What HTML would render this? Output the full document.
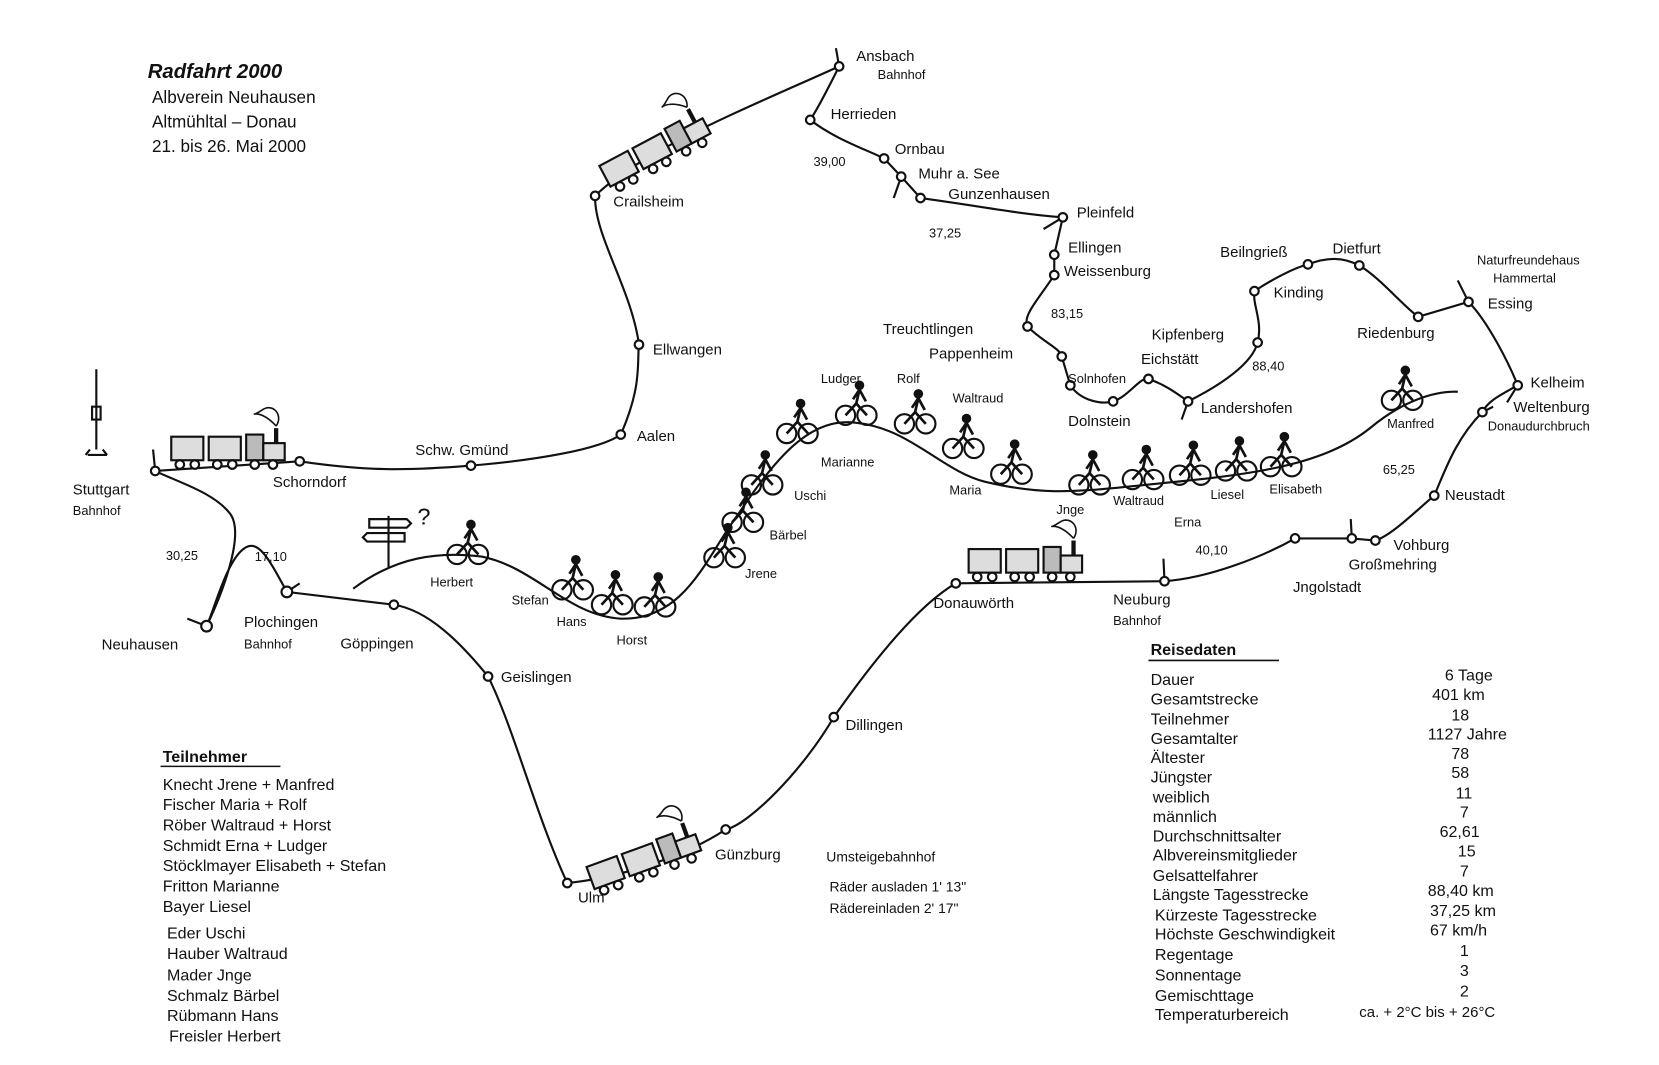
<!DOCTYPE html>
<html><head><meta charset="utf-8"><style>
html,body{margin:0;padding:0;background:#fff;}
svg{display:block;}
text{font-family:"Liberation Sans",sans-serif;fill:#111;}
</style></head><body>
<svg width="1659" height="1065" viewBox="0 0 1550 995" xmlns="http://www.w3.org/2000/svg">
<defs>
<g id="bike">
<circle cx="-10" cy="-9" r="9" fill="none" stroke="#111" stroke-width="2"/>
<circle cx="10" cy="-9" r="9" fill="none" stroke="#111" stroke-width="2"/>
<path d="M-10 -9 L0 -20 L10 -9 M0 -20 L3 -33 M3 -33 L9 -22 M3 -33 L-3 -24" stroke="#111" stroke-width="2.5" fill="none"/>
<circle cx="3" cy="-37" r="4.5" fill="#111"/>
</g>
<symbol id="train" overflow="visible">
<rect x="0" y="0" width="30" height="22" fill="#ddd" stroke="#111" stroke-width="2"/>
<rect x="35" y="0" width="30" height="22" fill="#ddd" stroke="#111" stroke-width="2"/>
<rect x="70" y="-2" width="16" height="24" fill="#bbb" stroke="#111" stroke-width="2"/>
<rect x="86" y="6" width="20" height="16" fill="#ddd" stroke="#111" stroke-width="2"/>
<rect x="96" y="-8" width="4" height="14" fill="#111"/>
<g fill="#fff" stroke="#111" stroke-width="2"><circle cx="8" cy="26" r="4"/><circle cx="22" cy="26" r="4"/><circle cx="43" cy="26" r="4"/><circle cx="57" cy="26" r="4"/><circle cx="78" cy="26" r="4"/><circle cx="95" cy="26" r="4"/></g>
<path d="M98 -10 C80 -30 70 -15 85 -25 C95 -32 105 -20 98 -10" fill="none" stroke="#111" stroke-width="1.5"/>
</symbol>
</defs>
<g fill="none" stroke="#111" stroke-width="2">
<path d="M145 440 L280 431 C340 440 380 440 440 435 C500 430 560 420 580 406 C600 360 595 340 597 322 C590 270 555 220 556 183 C600 140 700 100 784 62 C775 80 765 100 757 112 C780 130 810 140 826 148 L842 165 L860 185 C900 190 950 200 993 203 L985 238 L985 257 C970 280 955 295 960 305 C975 320 990 325 992 333 L1000 360 C1010 375 1030 378 1040 375 C1055 370 1065 352 1073 354 C1090 360 1100 368 1110 375 C1140 360 1170 340 1175 320 C1180 300 1170 285 1172 272 C1190 260 1210 250 1222 247 C1240 240 1255 240 1270 248 C1290 260 1310 285 1325 296 L1372 282 C1390 300 1410 340 1418 360 C1400 370 1390 375 1385 385 C1360 410 1350 440 1340 463 C1320 480 1300 500 1285 505 L1263 503 L1210 503 C1180 520 1130 540 1088 543 L893 545 C850 570 800 640 779 670 C750 720 700 770 678 775 C640 800 580 820 530 825 C500 760 480 680 456 632 C430 600 400 570 368 565 L268 553 C250 520 240 500 225 515 C210 530 200 570 193 585 C205 560 230 500 215 480 C200 460 165 450 145 440"/>
<path d="M145 440 L143 420 M193 585 L175 578 M268 553 L280 545 M784 62 L781 45 M842 165 L835 185 M993 203 L975 214 M1110 375 L1104 392 M1372 282 L1362 262 M1418 360 L1408 376 M1385 385 L1395 380 M1088 543 L1087 522 M1263 503 L1262 485"/>
<path d="M330 550 C370 520 410 515 450 520 C500 530 530 575 580 578 C640 580 660 520 690 480 C730 420 760 390 800 395 C850 400 880 440 920 450 C970 462 1000 460 1050 455 C1150 445 1230 440 1280 400 C1310 375 1340 365 1362 366"/>
<path d="M363 482 L363 530 M345 485 L380 485 L384 489 L380 493 L345 493 Z M343 498 L378 498 L378 506 L343 506 L339 502 Z"/>
<path d="M90 345 L90 420 M84 420 L80 425 M96 420 L100 425 M82 425 L100 425 M86 380 L94 380 L94 392 L86 392 Z"/>
</g>
<g fill="#fff" stroke="#111" stroke-width="2">
<circle cx="145" cy="440" r="4"/><circle cx="280" cy="431" r="4"/><circle cx="440" cy="435" r="4"/><circle cx="580" cy="406" r="4"/><circle cx="597" cy="322" r="4"/><circle cx="556" cy="183" r="4"/><circle cx="784" cy="62" r="4"/><circle cx="757" cy="112" r="4"/><circle cx="826" cy="148" r="4"/><circle cx="842" cy="165" r="4"/><circle cx="860" cy="185" r="4"/><circle cx="993" cy="203" r="4"/><circle cx="985" cy="238" r="4"/><circle cx="985" cy="257" r="4"/><circle cx="960" cy="305" r="4"/><circle cx="992" cy="333" r="4"/><circle cx="1000" cy="360" r="4"/><circle cx="1040" cy="375" r="4"/><circle cx="1073" cy="354" r="4"/><circle cx="1110" cy="375" r="4"/><circle cx="1175" cy="320" r="4"/><circle cx="1172" cy="272" r="4"/><circle cx="1222" cy="247" r="4"/><circle cx="1270" cy="248" r="4"/><circle cx="1325" cy="296" r="4"/><circle cx="1372" cy="282" r="4"/><circle cx="1418" cy="360" r="4"/><circle cx="1385" cy="385" r="4"/><circle cx="1340" cy="463" r="4"/><circle cx="1285" cy="505" r="4"/><circle cx="1263" cy="503" r="4"/><circle cx="1210" cy="503" r="4"/><circle cx="1088" cy="543" r="4"/><circle cx="893" cy="545" r="4"/><circle cx="779" cy="670" r="4"/><circle cx="678" cy="775" r="4"/><circle cx="530" cy="825" r="4"/><circle cx="456" cy="632" r="4"/><circle cx="368" cy="565" r="4"/><circle cx="268" cy="553" r="5"/><circle cx="193" cy="585" r="5"/>
</g>
<use href="#train" x="160" y="408"/>
<use href="#train" x="905" y="513"/>
<g transform="translate(560,155) rotate(-28)"><use href="#train" x="0" y="0"/></g>
<g transform="translate(548,810) rotate(-20)"><use href="#train" x="0" y="0"/></g>
<use href="#bike" x="437" y="527"/>
<use href="#bike" x="535" y="560"/>
<use href="#bike" x="572" y="574"/>
<use href="#bike" x="612" y="576"/>
<use href="#bike" x="677" y="530"/>
<use href="#bike" x="694" y="497"/>
<use href="#bike" x="712" y="462"/>
<use href="#bike" x="745" y="414"/>
<use href="#bike" x="800" y="397"/>
<use href="#bike" x="855" y="405"/>
<use href="#bike" x="900" y="428"/>
<use href="#bike" x="945" y="452"/>
<use href="#bike" x="1018" y="462"/>
<use href="#bike" x="1068" y="457"/>
<use href="#bike" x="1112" y="453"/>
<use href="#bike" x="1155" y="449"/>
<use href="#bike" x="1197" y="445"/>
<use href="#bike" x="1310" y="383"/>
<text x="390" y="490" font-size="22">?</text>
<g font-size="16">
<text x="138" y="73" font-size="19" font-weight="bold" font-style="italic">Radfahrt  2000</text>
<text x="142" y="96">Albverein Neuhausen</text>
<text x="142" y="119">Altmühltal – Donau</text>
<text x="142" y="142">21. bis 26. Mai 2000</text>
</g>
<g font-size="14">
<text x="68" y="462">Stuttgart</text><text x="68" y="481" font-size="12">Bahnhof</text>
<text x="255" y="455">Schorndorf</text>
<text x="388" y="425">Schw. Gmünd</text>
<text x="595" y="412">Aalen</text>
<text x="610" y="331">Ellwangen</text>
<text x="573" y="193">Crailsheim</text>
<text x="800" y="57">Ansbach</text><text x="820" y="74" font-size="12">Bahnhof</text>
<text x="776" y="111">Herrieden</text>
<text x="836" y="144">Ornbau</text>
<text x="858" y="167">Muhr a. See</text>
<text x="886" y="186">Gunzenhausen</text>
<text x="1006" y="203">Pleinfeld</text>
<text x="998" y="236">Ellingen</text>
<text x="994" y="258">Weissenburg</text>
<text x="825" y="312">Treuchtlingen</text>
<text x="868" y="335">Pappenheim</text>
<text x="998" y="358" font-size="12">Solnhofen</text>
<text x="998" y="398">Dolnstein</text>
<text x="1076" y="317">Kipfenberg</text>
<text x="1066" y="340">Eichstätt</text>
<text x="1122" y="386">Landershofen</text>
<text x="1190" y="278">Kinding</text>
<text x="1140" y="240">Beilngrieß</text>
<text x="1245" y="237">Dietfurt</text>
<text x="1268" y="316">Riedenburg</text>
<text x="1380" y="247" font-size="12">Naturfreundehaus</text>
<text x="1395" y="264" font-size="12">Hammertal</text>
<text x="1390" y="288">Essing</text>
<text x="1430" y="362">Kelheim</text>
<text x="1414" y="385">Weltenburg</text>
<text x="1390" y="402" font-size="12">Donaudurchbruch</text>
<text x="1350" y="467">Neustadt</text>
<text x="1302" y="514">Vohburg</text>
<text x="1260" y="532">Großmehring</text>
<text x="1208" y="553">Jngolstadt</text>
<text x="1040" y="565">Neuburg</text><text x="1040" y="584" font-size="12">Bahnhof</text>
<text x="872" y="568">Donauwörth</text>
<text x="790" y="682">Dillingen</text>
<text x="668" y="803">Günzburg</text>
<text x="540" y="843">Ulm</text>
<text x="468" y="637">Geislingen</text>
<text x="318" y="606">Göppingen</text>
<text x="228" y="586">Plochingen</text><text x="228" y="606" font-size="12">Bahnhof</text>
<text x="95" y="607">Neuhausen</text>
<text x="772" y="805" font-size="13">Umsteigebahnhof</text>
<text x="775" y="833" font-size="13">Räder ausladen  1' 13"</text>
<text x="775" y="853" font-size="13">Rädereinladen  2' 17"</text>
</g>
<g font-size="12">
<text x="155" y="523">30,25</text><text x="238" y="524">17,10</text>
<text x="760" y="155">39,00</text><text x="868" y="222">37,25</text>
<text x="982" y="297">83,15</text><text x="1170" y="346">88,40</text>
<text x="1292" y="443">65,25</text><text x="1117" y="518">40,10</text>
<text x="402" y="548">Herbert</text><text x="478" y="565">Stefan</text><text x="520" y="585">Hans</text><text x="576" y="602">Horst</text>
<text x="696" y="540">Jrene</text><text x="719" y="504">Bärbel</text><text x="742" y="467">Uschi</text><text x="767" y="436">Marianne</text>
<text x="767" y="358">Ludger</text><text x="838" y="358">Rolf</text><text x="890" y="376">Waltraud</text><text x="887" y="462">Maria</text>
<text x="987" y="480">Jnge</text><text x="1040" y="472">Waltraud</text><text x="1097" y="492">Erna</text><text x="1131" y="466">Liesel</text><text x="1186" y="461">Elisabeth</text><text x="1296" y="400">Manfred</text>
</g>
<g font-size="15">
<text x="152" y="712" font-weight="bold">Teilnehmer</text>
<line x1="150" y1="716" x2="262" y2="716" stroke="#111" stroke-width="1.5"/>
<text x="152" y="738">Knecht  Jrene + Manfred</text>
<text x="152" y="757">Fischer  Maria + Rolf</text>
<text x="152" y="776">Röber   Waltraud + Horst</text>
<text x="152" y="795">Schmidt  Erna + Ludger</text>
<text x="152" y="814">Stöcklmayer Elisabeth + Stefan</text>
<text x="152" y="833">Fritton  Marianne</text>
<text x="152" y="852">Bayer  Liesel</text>
<text x="156" y="877">Eder  Uschi</text>
<text x="156" y="896">Hauber Waltraud</text>
<text x="156" y="916">Mader  Jnge</text>
<text x="156" y="935">Schmalz Bärbel</text>
<text x="156" y="954">Rübmann Hans</text>
<text x="158" y="973">Freisler Herbert</text>
</g>
<g font-size="15">
<text x="1075" y="612" font-weight="bold">Reisedaten</text>
<line x1="1073" y1="617" x2="1195" y2="617" stroke="#111" stroke-width="1.5"/>
<text x="1075" y="640">Dauer</text><text x="1350" y="636">6 Tage</text>
<text x="1075" y="658">Gesamtstrecke</text><text x="1338" y="654">401 km</text>
<text x="1075" y="677">Teilnehmer</text><text x="1356" y="673">18</text>
<text x="1075" y="695">Gesamtalter</text><text x="1334" y="691">1127 Jahre</text>
<text x="1075" y="713">Ältester</text><text x="1356" y="709">78</text>
<text x="1075" y="731">Jüngster</text><text x="1356" y="727">58</text>
<text x="1077" y="750">weiblich</text><text x="1360" y="746">11</text>
<text x="1077" y="768">männlich</text><text x="1364" y="764">7</text>
<text x="1077" y="786">Durchschnittsalter</text><text x="1345" y="782">62,61</text>
<text x="1077" y="804">Albvereinsmitglieder</text><text x="1362" y="800">15</text>
<text x="1077" y="823">Gelsattelfahrer</text><text x="1364" y="819">7</text>
<text x="1077" y="841">Längste Tagesstrecke</text><text x="1334" y="837">88,40 km</text>
<text x="1079" y="860">Kürzeste Tagesstrecke</text><text x="1336" y="856">37,25 km</text>
<text x="1079" y="878">Höchste Geschwindigkeit</text><text x="1336" y="874">67 km/h</text>
<text x="1079" y="897">Regentage</text><text x="1364" y="893">1</text>
<text x="1079" y="916">Sonnentage</text><text x="1364" y="912">3</text>
<text x="1079" y="935">Gemischttage</text><text x="1364" y="931">2</text>
<text x="1079" y="953">Temperaturbereich</text><text x="1270" y="950" font-size="14">ca. + 2°C bis + 26°C</text>
</g>
</svg>
</body></html>
